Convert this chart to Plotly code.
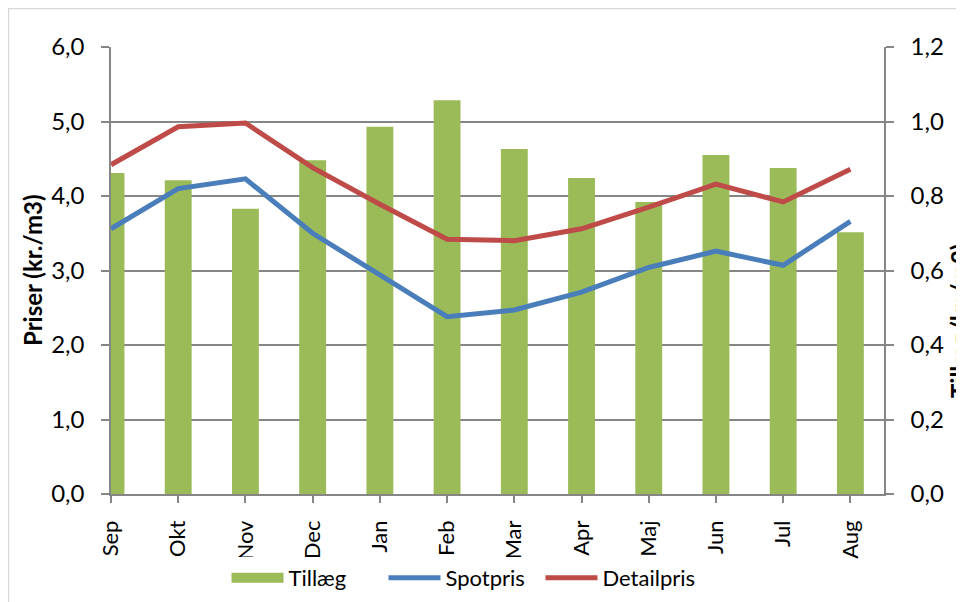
import plotly.graph_objects as go

months = ["Sep", "Okt", "Nov", "Dec", "Jan", "Feb", "Mar", "Apr", "Maj", "Jun", "Jul", "Aug"]
tillaeg = [0.862, 0.842, 0.766, 0.896, 0.986, 1.057, 0.926, 0.848, 0.784, 0.910, 0.875, 0.703]
spotpris = [3.56, 4.10, 4.23, 3.50, 2.94, 2.38, 2.47, 2.71, 3.04, 3.26, 3.07, 3.66]
detailpris = [4.42, 4.93, 4.98, 4.38, 3.89, 3.42, 3.40, 3.56, 3.85, 4.16, 3.92, 4.36]

FONT = "Lato, 'Open Sans', sans-serif"
GRID = "#868686"
GREEN, BLUE, RED = "#9bbb59", "#4a7ebb", "#be4b48"

fig = go.Figure()
fig.add_trace(go.Bar(x=months, y=tillaeg, name="Tillæg", marker_color=GREEN,
                     marker_line_width=0, yaxis="y", showlegend=False, legendgroup="t"))
# legend-only entry so the Tillæg key looks like a wide bar swatch
fig.add_trace(go.Scatter(x=[None], y=[None], name="Tillæg", mode="lines",
                         line=dict(color=GREEN, width=13), yaxis="y", legendgroup="t"))
fig.add_trace(go.Scatter(x=months, y=spotpris, name="Spotpris", mode="lines",
                         line=dict(color=BLUE, width=5), yaxis="y2"))
fig.add_trace(go.Scatter(x=months, y=detailpris, name="Detailpris", mode="lines",
                         line=dict(color=RED, width=5), yaxis="y2"))

OFF = 8  # page body margin
W, H = 964 - OFF, 602 - OFF
# plot area in screen pixels
SL, SR, ST, SB = 111, 884, 47, 494
L, R, T, B = SL - OFF, SR - OFF, ST - OFF, SB - OFF


def px(x):
    return (x - SL) / (SR - SL)


def py(y):
    return (SB - y) / (SB - ST)


fig.update_layout(
    width=W, height=H,
    margin=dict(l=L, r=W - R, t=T, b=H - B, autoexpand=False),
    paper_bgcolor="white", plot_bgcolor="white",
    separators=", ",
    font=dict(family=FONT, size=21, color="#000000"),
    bargap=0.6,
    showlegend=True,
    legend=dict(orientation="h", x=px(462), xanchor="center", y=py(578), yanchor="middle",
                font=dict(size=22), traceorder="normal", itemwidth=52,
                entrywidth=90),
    xaxis=dict(type="category", range=[0, 11.5], showgrid=False, showline=True,
               linecolor=GRID, linewidth=1.5, ticks="outside", ticklen=7,
               tickcolor=GRID, tickwidth=1.5, tickangle=-90, tickfont=dict(size=22),
               ticklabelstandoff=9),
    yaxis=dict(range=[0, 1.2], dtick=0.2, tickformat=".1f", side="right",
               showgrid=True, gridcolor=GRID, gridwidth=1.5, showline=True,
               linecolor=GRID, linewidth=1.5, ticks="outside", ticklen=8,
               tickcolor=GRID, tickwidth=1.5, zeroline=False, tickfont=dict(size=24),
               ticklabelstandoff=12),
    yaxis2=dict(range=[0, 6], dtick=1, tickformat=".1f", side="left", overlaying="y",
                showgrid=False, showline=True, linecolor=GRID, linewidth=1.5,
                ticks="outside", ticklen=8, tickcolor=GRID, tickwidth=1.5,
                zeroline=False, tickfont=dict(size=24), ticklabelstandoff=12),
    annotations=[
        dict(text="<b>Priser (kr./m3)</b>", xref="paper", yref="paper",
             x=px(32), y=py(270), textangle=-90, showarrow=False,
             font=dict(size=24), xanchor="center", yanchor="middle"),
        dict(text="<b>Tillæg (kr./m3)</b>", xref="paper", yref="paper",
             x=px(960), y=py(321), textangle=-90, showarrow=False,
             font=dict(size=24), xanchor="center", yanchor="middle"),
    ],
    shapes=[
        dict(type="rect", xref="paper", yref="paper",
             x0=px(8.5), x1=px(990), y0=py(630), y1=py(8.5),
             line=dict(color="#d9d9d9", width=1.5), layer="below"),
    ],
)

fig.write_html("out.html")
